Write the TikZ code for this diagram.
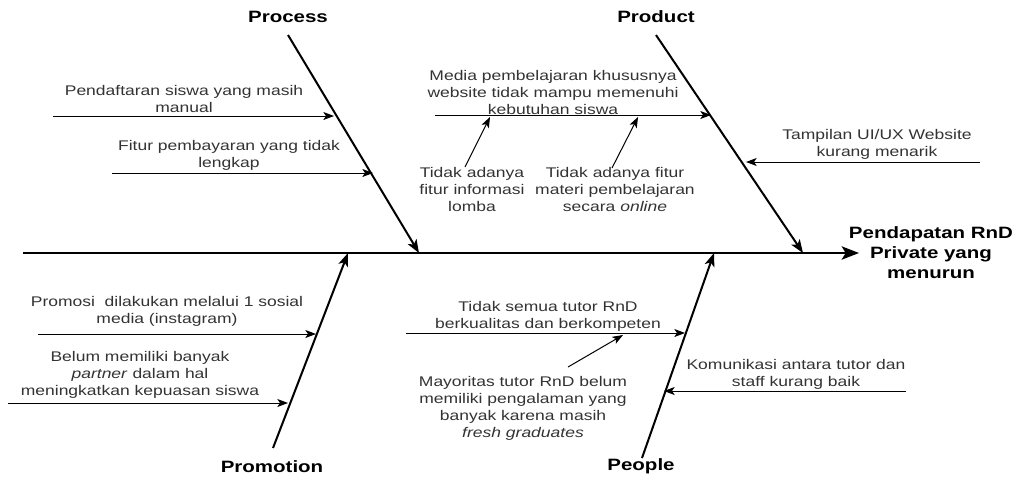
\documentclass[tikz,border=0pt]{standalone}
\usepackage{fontspec}
\setmainfont{Liberation Sans}[FakeStretch=1.25]
\usetikzlibrary{arrows.meta}
\begin{document}
\begin{tikzpicture}[x=0.75pt,y=-0.75pt,
				txt/.style={align=center,inner sep=0pt,text=black!80,font=\fontsize{10.5}{12.75}\selectfont},
				lbl/.style={align=center,inner sep=0pt,font=\fontsize{12.3}{15}\selectfont\bfseries},
				spine/.style={line width=1.5pt,-{Stealth[length=13pt,width=10pt,inset=3pt]}},
				bone/.style={line width=1.5pt,-{Stealth[length=10pt,width=7.5pt,inset=2.5pt]}},
				cause/.style={line width=0.75pt,-{Stealth[length=8pt,width=6pt,inset=2pt]}}]
\useasboundingbox (0,0) rectangle (1018,476);
% head and spine
\node[lbl] (eff) at (931,253) {Pendapatan RnD\\Private yang\\menurun};
\coordinate (spS) at (23,253);
\coordinate (spE) at (859,253);
\draw[spine] (spS) -- (spE);
% bones
\node[lbl] (proc) at (288,17) {Process};
\node[lbl] (prod) at (656,17) {Product};
\node[lbl] (prom) at (272,467) {Promotion};
\node[lbl] (peop) at (641,466) {People};
\coordinate (procT) at (288,35);  \coordinate (procB) at (419,253);
\coordinate (prodT) at (656,35);  \coordinate (prodB) at (803,253);
\coordinate (promT) at (273,448); \coordinate (promB) at (348,253);
\coordinate (peopT) at (642,458); \coordinate (peopB) at (714,253);
\draw[bone] (procT) -- (procB);
\draw[bone] (prodT) -- (prodB);
\draw[bone] (promT) -- (promB);
\draw[bone] (peopT) -- (peopB);
% Process
\node[txt] (c1) at (184,98.5) {Pendaftaran siswa yang masih\\manual};
\coordinate (c1s) at (53,116);  \coordinate (c1e) at (334,116);
\draw[cause] (c1s) -- (c1e);
\node[txt] (c2) at (229,155.5) {Fitur pembayaran yang tidak\\lengkap};
\coordinate (c2s) at (112,173); \coordinate (c2e) at (373,173);
\draw[cause] (c2s) -- (c2e);
% Product
\node[txt] (c3) at (553,92) {Media pembelajaran khususnya\\website tidak mampu memenuhi\\kebutuhan siswa};
\coordinate (c3s) at (435,115); \coordinate (c3e) at (711,115);
\draw[cause] (c3s) -- (c3e);
\node[txt] (s1) at (472,189) {Tidak adanya\\fitur informasi\\lomba};
\coordinate (s1s) at (465,167); \coordinate (s1e) at (490,117);
\draw[cause] (s1s) -- (s1e);
\node[txt] (s2) at (615,189) {Tidak adanya fitur\\materi pembelajaran\\secara \textit{online}};
\coordinate (s2s) at (612,168); \coordinate (s2e) at (638,117);
\draw[cause] (s2s) -- (s2e);
\node[txt] (c4) at (877,144) {Tampilan UI/UX Website\\kurang menarik};
\coordinate (c4s) at (980,162); \coordinate (c4e) at (746,162);
\draw[cause] (c4s) -- (c4e);
% Promotion
\node[txt] (c5) at (167,311.5) {Promosi\ \ dilakukan melalui 1 sosial\\media (instagram)};
\coordinate (c5s) at (38,334);  \coordinate (c5e) at (316,334);
\draw[cause] (c5s) -- (c5e);
\node[txt] (c6) at (140,375) {Belum memiliki banyak\\\textit{partner} dalam hal\\meningkatkan kepuasan siswa};
\coordinate (c6s) at (8,403);   \coordinate (c6e) at (288,403);
\draw[cause] (c6s) -- (c6e);
% People
\node[txt] (c7) at (548,316) {Tidak semua tutor RnD\\berkualitas dan berkompeten};
\coordinate (c7s) at (406,333); \coordinate (c7e) at (685,333);
\draw[cause] (c7s) -- (c7e);
\node[txt] (s3) at (523,408) {Mayoritas tutor RnD belum\\memiliki pengalaman yang\\banyak karena masih\\\textit{fresh graduates}};
\coordinate (s3s) at (568,367); \coordinate (s3e) at (623,335);
\draw[cause] (s3s) -- (s3e);
\node[txt] (c8) at (796,374) {Komunikasi antara tutor dan\\staff kurang baik};
\coordinate (c8s) at (906,391); \coordinate (c8e) at (664,391);
\draw[cause] (c8s) -- (c8e);
\end{tikzpicture}
\end{document}
